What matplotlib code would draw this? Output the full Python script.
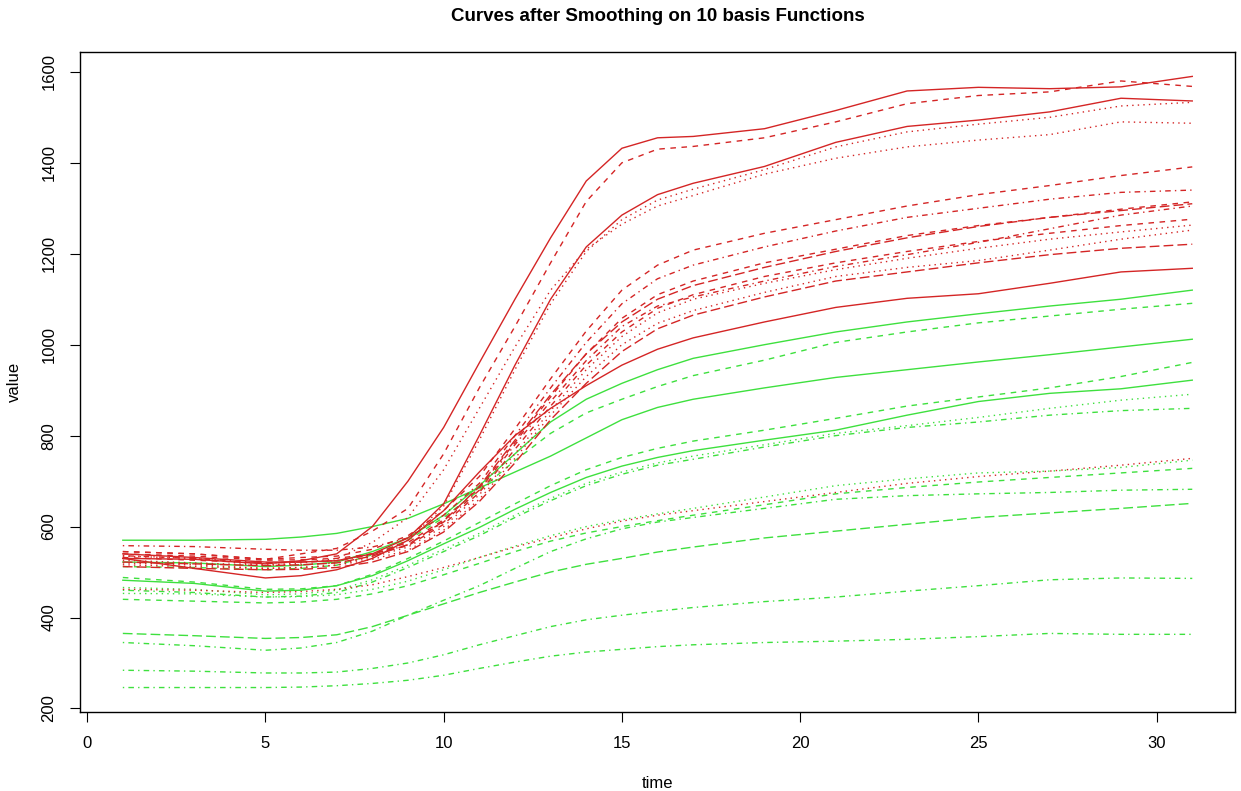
import matplotlib
matplotlib.use("Agg")
import matplotlib.pyplot as plt
import numpy as np

plt.rcParams['font.family'] = ['Liberation Sans', 'DejaVu Sans']

# evaluation grid of the smoothed curves (denser where they rise)
t = [1, 3, 5, 6, 7, 8, 9, 10, 11, 12, 13, 14, 15, 16, 17, 19, 21, 23, 25, 27, 29, 31]

# first group (red)
r1 = [530, 528, 518, 525, 540, 600, 700, 818, 960, 1100, 1235, 1360, 1432, 1455, 1458, 1475, 1515, 1558, 1566, 1563, 1567, 1590]
r2 = [545, 540, 528, 540, 552, 590, 640, 760, 905, 1040, 1180, 1315, 1400, 1430, 1436, 1455, 1490, 1530, 1548, 1556, 1580, 1568]
r3 = [540, 532, 522, 522, 525, 540, 575, 650, 800, 955, 1100, 1215, 1285, 1330, 1355, 1392, 1445, 1480, 1494, 1512, 1542, 1536]
r4 = [520, 516, 508, 510, 515, 535, 570, 645, 790, 945, 1090, 1205, 1275, 1318, 1342, 1385, 1435, 1468, 1485, 1500, 1525, 1533]
r5 = [535, 530, 515, 520, 530, 565, 620, 725, 860, 995, 1120, 1210, 1265, 1305, 1328, 1375, 1410, 1435, 1450, 1462, 1490, 1487]
r6 = [545, 540, 528, 532, 535, 550, 580, 635, 710, 815, 925, 1030, 1120, 1175, 1208, 1245, 1275, 1305, 1330, 1350, 1372, 1391]
r7 = [558, 556, 550, 548, 548, 555, 575, 625, 695, 800, 905, 1005, 1090, 1145, 1175, 1215, 1250, 1280, 1300, 1320, 1335, 1340]
r8 = [532, 526, 520, 522, 525, 540, 565, 615, 685, 785, 885, 980, 1058, 1110, 1140, 1180, 1210, 1240, 1262, 1280, 1298, 1314]
r9 = [522, 518, 514, 516, 520, 535, 560, 612, 688, 790, 890, 980, 1050, 1100, 1130, 1170, 1205, 1235, 1260, 1280, 1295, 1310]
r10 = [540, 535, 526, 527, 530, 540, 558, 605, 675, 770, 865, 955, 1028, 1080, 1110, 1150, 1180, 1205, 1227, 1245, 1262, 1276]
r11 = [526, 520, 515, 516, 520, 533, 555, 600, 670, 760, 855, 945, 1018, 1070, 1100, 1135, 1165, 1190, 1212, 1232, 1248, 1263]
r12 = [516, 512, 508, 510, 515, 528, 548, 592, 660, 750, 845, 930, 1000, 1047, 1075, 1115, 1150, 1170, 1185, 1208, 1232, 1252]
r13 = [512, 508, 505, 506, 510, 522, 545, 588, 655, 740, 835, 915, 985, 1035, 1065, 1105, 1140, 1160, 1180, 1198, 1212, 1221]
r14 = [536, 530, 520, 522, 525, 538, 560, 610, 680, 780, 875, 965, 1040, 1085, 1105, 1140, 1172, 1198, 1225, 1255, 1285, 1305]
r15 = [530, 508, 487, 492, 505, 530, 570, 635, 720, 800, 860, 910, 955, 990, 1015, 1050, 1082, 1102, 1112, 1135, 1160, 1168]
r16 = [462, 460, 455, 457, 462, 472, 490, 510, 532, 555, 575, 595, 612, 625, 635, 655, 675, 695, 710, 722, 735, 750]

# second group (green)
g1 = [522, 520, 512, 515, 522, 545, 575, 625, 690, 760, 830, 880, 915, 945, 970, 1000, 1028, 1050, 1068, 1085, 1100, 1120]
g2 = [512, 510, 505, 508, 515, 538, 570, 620, 680, 745, 805, 850, 880, 908, 932, 966, 1005, 1028, 1048, 1063, 1078, 1091]
g3 = [570, 570, 572, 577, 585, 600, 618, 650, 685, 720, 755, 795, 835, 862, 880, 905, 928, 945, 962, 978, 995, 1012]
g4 = [488, 478, 462, 463, 470, 495, 530, 568, 609, 650, 690, 725, 752, 772, 788, 812, 838, 865, 885, 905, 930, 961]
g5 = [482, 475, 458, 460, 470, 492, 525, 562, 598, 638, 675, 708, 733, 752, 767, 790, 812, 845, 875, 893, 903, 922]
g6 = [466, 462, 450, 452, 460, 483, 515, 550, 585, 625, 662, 695, 720, 740, 755, 780, 805, 822, 840, 860, 878, 891]
g7 = [460, 455, 445, 447, 455, 478, 510, 545, 580, 620, 657, 690, 715, 735, 748, 775, 800, 818, 830, 845, 855, 860]
g8 = [453, 452, 445, 446, 450, 462, 480, 505, 532, 557, 580, 600, 615, 628, 640, 665, 690, 705, 718, 722, 730, 746]
g9 = [440, 436, 432, 434, 440, 452, 470, 494, 519, 545, 568, 586, 600, 613, 625, 648, 672, 686, 698, 708, 718, 728]
g10 = [345, 338, 328, 333, 345, 370, 405, 438, 470, 508, 545, 573, 595, 610, 620, 640, 660, 668, 672, 675, 680, 682]
g11 = [365, 360, 354, 356, 362, 380, 405, 430, 455, 478, 500, 517, 530, 544, 555, 575, 590, 605, 620, 630, 640, 651]
g12 = [284, 282, 278, 278, 280, 288, 300, 318, 340, 360, 380, 395, 405, 414, 422, 435, 445, 458, 470, 483, 487, 486]
g13 = [246, 246, 246, 247, 250, 255, 262, 273, 288, 302, 315, 324, 330, 336, 340, 345, 348, 352, 358, 365, 363, 363]

red_curves = [r1, r2, r3, r4, r5, r6, r7, r8, r9, r10, r11, r12, r13, r14, r15, r16]
green_curves = [g1, g2, g3, g4, g5, g6, g7, g8, g9, g10, g11, g12, g13]

# R style line types
lty = {
    'solid': '-',
    'dashed': (0, (4, 4)),
    'dotted': (0, (1, 3)),
    'dotdash': (0, (1, 3, 4, 3)),
    'longdash': (0, (7, 3)),
}
red_lty = ['solid', 'dashed', 'solid', 'dotted', 'dotted', 'dashed', 'dotdash', 'dashed',
           'longdash', 'dashed', 'dotted', 'dotted', 'longdash', 'dotdash', 'solid', 'dotted']
green_lty = ['solid', 'dashed', 'solid', 'dashed', 'solid', 'dotted', 'dotdash', 'dotted',
             'dashed', 'dotdash', 'longdash', 'dotdash', 'dotdash']

fig = plt.figure(figsize=(12.41, 7.91), dpi=100)
ax = fig.add_axes([0.0645, 0.0999, 0.9307, 0.8344])

for y, s in zip(green_curves, green_lty):
    ax.plot(t, y, color='#3ee03e', lw=1.0, linestyle=lty[s])
for y, s in zip(red_curves, red_lty):
    ax.plot(t, y, color='#d42525', lw=1.0, linestyle=lty[s])

# R pads each axis by 4% of the data range
allv = np.array(red_curves + green_curves)
lo, hi = allv.min(), allv.max()
pad = 0.04 * (hi - lo)
ax.set_ylim(lo - pad, hi + pad)
ax.set_xlim(1 - 0.04 * 30, 31 + 0.04 * 30)

ax.set_xticks(range(0, 31, 5))
ax.set_yticks(range(200, 1601, 200))
ax.tick_params(direction='out', length=7, width=0.8, labelsize=12, pad=10)
for lab in ax.get_yticklabels():
    lab.set_rotation(90)
    lab.set_va('center')
for sp in ax.spines.values():
    sp.set_linewidth(1.0)

ax.set_xlabel('time', fontsize=12, labelpad=18)
ax.set_ylabel('value', fontsize=12, labelpad=14)
fig.suptitle('Curves after Smoothing on 10 basis Functions', fontsize=13.5,
             fontweight='bold', x=0.53, y=0.99)

fig.savefig('out.png', dpi=100)
